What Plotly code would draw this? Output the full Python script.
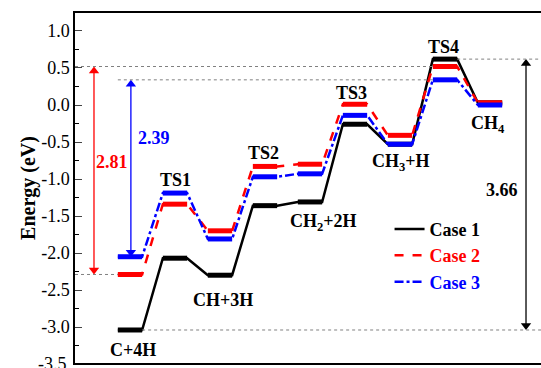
import plotly.graph_objects as go

states = ["C+4H", "TS1", "CH+3H", "TS2", "CH<sub>2</sub>+2H", "TS3", "CH<sub>3</sub>+H", "TS4", "CH<sub>4</sub>"]
case1 = [-3.04, -2.07, -2.30, -1.36, -1.31, -0.26, -0.53, 0.62, 0.03]
case2 = [-2.29, -1.34, -1.70, -0.83, -0.80, 0.01, -0.41, 0.52, 0.03]
case3 = [-2.05, -1.19, -1.81, -0.97, -0.93, -0.14, -0.53, 0.34, 0.00]
series_names = ["Case 1", "Case 2", "Case 3"]
y_ticks = [-3.5, -3.0, -2.5, -2.0, -1.5, -1.0, -0.5, 0.0, 0.5, 1.0]

# styles
colors = ["#000000", "#ff0000", "#0000ff"]
dashes = ["solid", "dash", "dashdot"]
HW = 0.27
FONT = "Liberation Serif, Times New Roman, serif"
YMIN, YMAX = -3.486, 1.243
PX_PER_EV = 74.0

fig = go.Figure()
for vals, name, col, dsh in zip([case1, case2, case3], series_names, colors, dashes):
    xs, ys = [], []
    for i, v in enumerate(vals):
        xs += [i - HW, i + HW]
        ys += [v, v]
    fig.add_trace(go.Scatter(x=xs, y=ys, mode="lines",
                             line=dict(color=col, width=2.5, dash=dsh),
                             name=f"<b><span style='color:{col}'>{name}</span></b>",
                             hoverinfo="skip"))
    lx, ly = [], []
    for i, v in enumerate(vals):
        lx += [i - HW, i + HW, None]
        ly += [v, v, None]
    fig.add_trace(go.Scatter(x=lx, y=ly, mode="lines",
                             line=dict(color=col, width=5),
                             showlegend=False, hoverinfo="skip"))

xmin, xmax = -1.222, 9.133
ts4 = states.index("TS4")

# guide dotted lines
guide = dict(color="#808080", width=1, dash="dot")
fig.add_shape(type="line", x0=xmin, x1=ts4 - HW, y0=case2[ts4], y1=case2[ts4], line=guide)
fig.add_shape(type="line", x0=-HW, x1=ts4 - HW, y0=case3[ts4], y1=case3[ts4], line=guide)
fig.add_shape(type="line", x0=ts4 + HW, x1=xmax, y0=case1[ts4], y1=case1[ts4], line=guide)
fig.add_shape(type="line", x0=xmin, x1=-HW, y0=case2[0], y1=case2[0], line=guide)
fig.add_shape(type="line", x0=HW, x1=xmax, y0=case1[0], y1=case1[0], line=guide)

# double arrows with barrier values
arrow_specs = [(case2, colors[1], -0.8, -0.40), (case3, colors[2], 0.02, 0.53), (case1, colors[0], 8.8, 8.27)]
label_y = [-0.77, -0.45, -1.15]
head = 9 / 2 / PX_PER_EV
for (vals, col, ax_x, tx), ty in zip(arrow_specs, label_y):
    top, bot = vals[ts4], vals[0]
    fig.add_shape(type="line", x0=ax_x, x1=ax_x, y0=bot + head, y1=top - head,
                  line=dict(color=col, width=1.3))
    fig.add_trace(go.Scatter(x=[ax_x, ax_x], y=[top - head, bot + head], mode="markers",
                             marker=dict(symbol=["triangle-up", "triangle-down"], size=9,
                                         color=col, line=dict(width=0)),
                             showlegend=False, hoverinfo="skip"))
    fig.add_annotation(x=tx, y=ty, text=f"<b>{top - bot:.2f}</b>", showarrow=False,
                       font=dict(family=FONT, size=18, color=col))

# state labels: TS above highest level, minima below lowest level
label_dx = [0.07, 0.0, 0.07, -0.04, 0.31, -0.07, 0.02, -0.04, -0.04]
label_dy = [-0.27, 0.18, -0.34, 0.18, -0.28, 0.15, -0.25, 0.16, -0.27]
for i, s in enumerate(states):
    lv = [case1[i], case2[i], case3[i]]
    base = max(lv) if s.startswith("TS") else min(lv)
    fig.add_annotation(x=i + label_dx[i], y=base + label_dy[i], text=f"<b>{s}</b>",
                       showarrow=False, font=dict(family=FONT, size=18, color="black"))

# partially clipped lowest tick label (below plotted range)
fig.add_annotation(xref="paper", yref="paper", x=0,
                   y=(y_ticks[0] - YMIN) / (YMAX - YMIN), xanchor="right", xshift=-6,
                   yanchor="middle", text=f"{y_ticks[0]:.1f}", showarrow=False,
                   font=dict(family=FONT, size=18, color="black"))

shown = [t for t in y_ticks if t >= YMIN]
fig.update_layout(
    width=541, height=368,
    margin=dict(l=75, r=0, t=13, b=5),
    plot_bgcolor="white", paper_bgcolor="white",
    font=dict(family=FONT, size=18, color="black"),
    showlegend=True,
    legend=dict(x=0.675, y=0.435, xanchor="left", yanchor="top",
                bgcolor="rgba(0,0,0,0)", font=dict(family=FONT, size=18),
                tracegroupgap=0, itemwidth=30),
    xaxis=dict(range=[xmin, xmax], showline=True, linecolor="black", linewidth=1.5,
               mirror=True, ticks="", showticklabels=False, showgrid=False, zeroline=False),
    yaxis=dict(range=[YMIN, YMAX], showline=True, linecolor="black", linewidth=1.5,
               mirror=False, ticks="inside", ticklen=7, tickwidth=1,
               tickvals=shown, ticktext=[f"{t:.1f}" for t in shown],
               showgrid=False, zeroline=False,
               minor=dict(ticks="inside", ticklen=4, dtick=0.25, tickcolor="black"),
               title=dict(text="<b>Energy (eV)</b>", font=dict(family=FONT, size=20), standoff=0),
               tickfont=dict(family=FONT, size=18)),
)

fig.write_html("out.html")
